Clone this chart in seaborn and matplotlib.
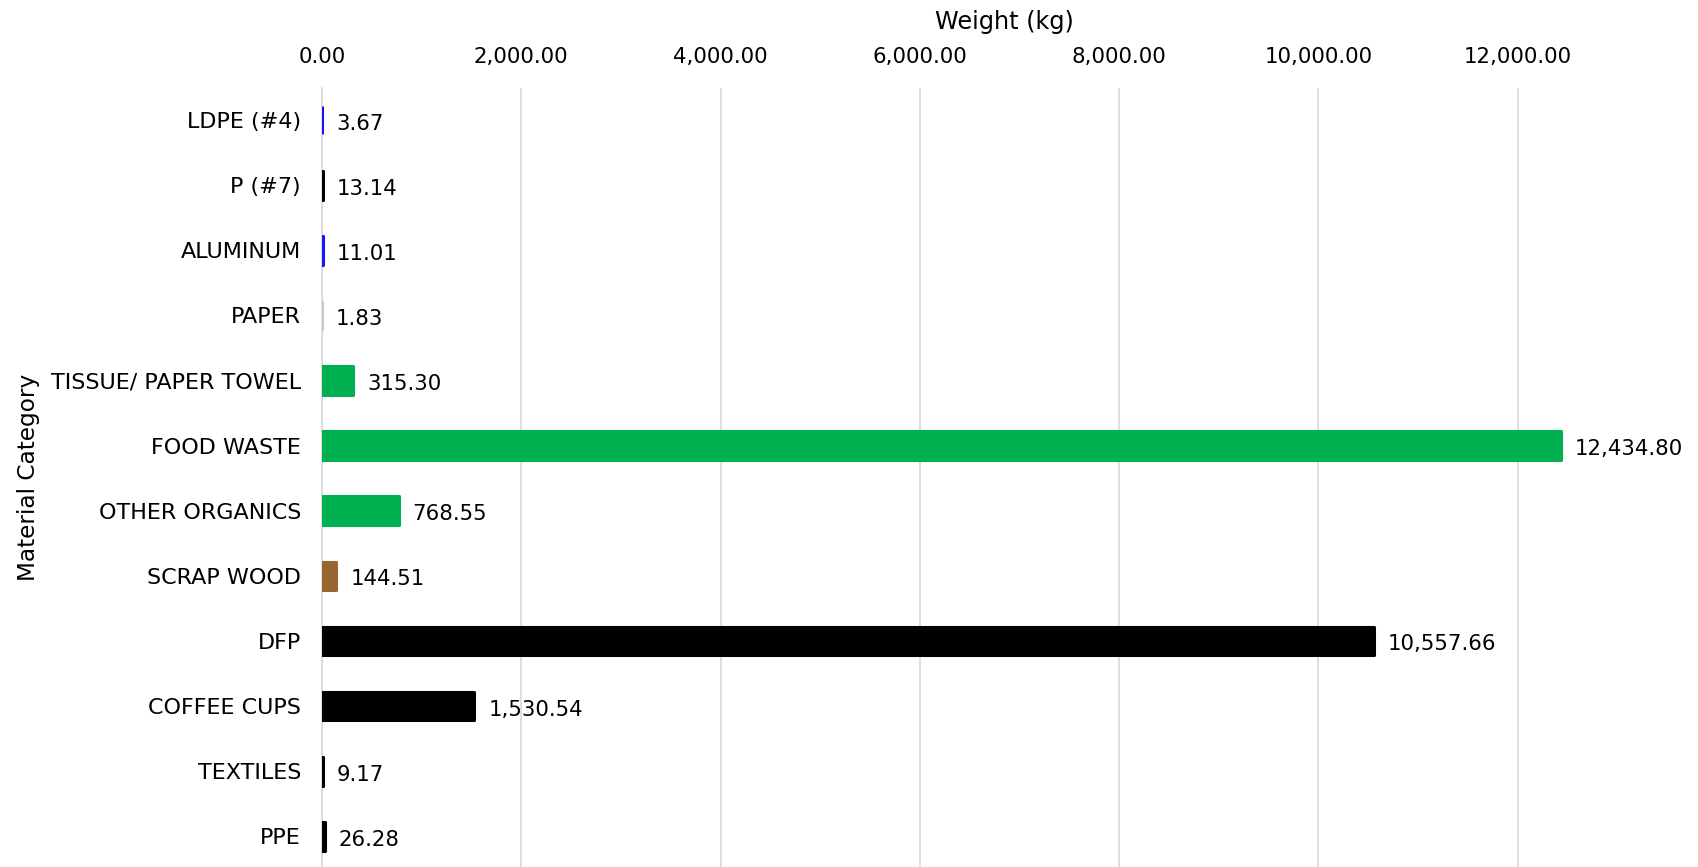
import matplotlib
matplotlib.use("Agg")
import matplotlib.pyplot as plt
import seaborn as sns
import pandas as pd
from matplotlib.ticker import FuncFormatter

categories = ["LDPE (#4)", "P (#7)", "ALUMINUM", "PAPER", "TISSUE/ PAPER TOWEL",
              "FOOD WASTE", "OTHER ORGANICS", "SCRAP WOOD", "DFP", "COFFEE CUPS",
              "TEXTILES", "PPE"]
weights = [3.67, 13.14, 11.01, 1.83, 315.30, 12434.80, 768.55, 144.51,
           10557.66, 1530.54, 9.17, 26.28]
bar_colors = ["#1414FF", "#000000", "#1414FF", "#C8C8C8", "#00B050", "#00B050",
              "#00B050", "#996633", "#000000", "#000000", "#000000", "#000000"]
x_ticks = [0, 2000, 4000, 6000, 8000, 10000, 12000]

df = pd.DataFrame({"Material Category": categories, "Weight (kg)": weights})

sns.set_theme(style="white")
plt.rcParams["font.family"] = ["DejaVu Sans"]
plt.rcParams["text.color"] = "black"
plt.rcParams["axes.labelcolor"] = "black"
plt.rcParams["xtick.color"] = "black"
plt.rcParams["ytick.color"] = "black"

fig = plt.figure(figsize=(16.98, 8.67), dpi=100)
ax = fig.add_axes([0.1896, 0.0, 0.804, 0.899])

sns.barplot(data=df, y="Material Category", x="Weight (kg)", hue="Material Category",
            palette=dict(zip(categories, bar_colors)), orient="h", width=0.44,
            saturation=1, legend=False, ax=ax, zorder=3)

# rounded bar ends: an edge in the fill colour with round joins
for patch, c in zip(ax.patches, bar_colors):
    patch.set_edgecolor(c)
    patch.set_linewidth(2.2)
    patch.set_joinstyle("round")

for i, v in enumerate(weights):
    ax.annotate(f"{v:,.2f}", xy=(v, i), xytext=(10, -1), textcoords="offset points",
                ha="left", va="center_baseline", fontsize=15.3, color="black")

ax.set_xlim(0, 13700)
ax.set_ylim(11.47, -0.5)
ax.set_xticks(x_ticks)
ax.xaxis.set_major_formatter(FuncFormatter(lambda x, p: f"{x:,.2f}"))
ax.xaxis.tick_top()
ax.xaxis.set_label_position("top")
ax.tick_params(axis="x", length=0, labelsize=15.3, pad=15)
ax.tick_params(axis="y", length=0, labelsize=16, pad=15)
ax.grid(axis="x", color="#D9D9D9", linewidth=1.2, zorder=0)
ax.set_axisbelow(True)

for s in ["top", "right", "bottom"]:
    ax.spines[s].set_visible(False)
ax.spines["left"].set_color("#D9D9D9")
ax.spines["left"].set_linewidth(1.2)
ax.spines["left"].set_zorder(2)

ax.set_xlabel("Weight (kg)", fontsize=17.3, labelpad=13)
ax.set_ylabel("Material Category", fontsize=16.7, labelpad=8)

fig.savefig("out.png", dpi=100)
